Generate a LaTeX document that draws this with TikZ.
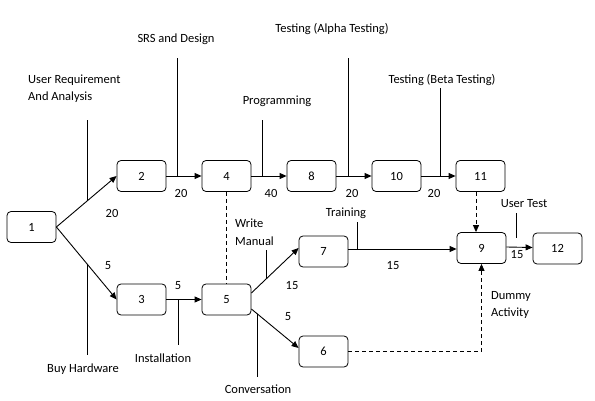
\documentclass[tikz,border=0pt]{standalone}
\usepackage{fontspec}
\setmainfont{Carlito}
\usetikzlibrary{arrows.meta,calc}
\begin{document}
\begin{tikzpicture}[x=1pt,y={(0pt,-1pt)},
  font=\fontsize{12.5}{17.5}\selectfont,
  ev/.style={draw,rounded corners=4pt,minimum width=49pt,minimum height=31pt,line width=0.8pt,inner sep=0pt},
  act/.style={line width=0.9pt,-{Triangle[length=7pt,width=6pt]}},
  dum/.style={line width=0.9pt,dash pattern=on 4pt off 3pt},
  call/.style={line width=0.9pt},
  lbl/.style={inner sep=0pt,align=left}]
\useasboundingbox (0,0) rectangle (595,401);
% events
\node[ev] (n1) at (31.5,227) {1};
\node[ev] (n2) at (141.5,176) {2};
\node[ev] (n3) at (141.5,299.5) {3};
\node[ev] (n4) at (226.5,176) {4};
\node[ev] (n5) at (226.5,299.5) {5};
\node[ev] (n8) at (311.5,176) {8};
\node[ev] (n10) at (396.5,176) {10};
\node[ev] (n11) at (480.5,176) {11};
\node[ev] (n7) at (323.5,251.5) {7};
\node[ev] (n6) at (323.5,351.5) {6};
\node[ev] (n9) at (481.5,248) {9};
\node[ev] (n12) at (557.5,248.5) {12};
% activities
\draw[act] (n1.east) -- (n2.west);
\draw[act] (n1.east) -- (n3.west);
\draw[act] (n2) -- (n4);
\draw[act] (n3) -- (n5);
\draw[act] (n4) -- (n8);
\draw[act] (n8) -- (n10);
\draw[act] (n10) -- (n11);
\coordinate (s57) at ([yshift=6.5pt]n5.east);
\coordinate (e57) at ([yshift=3.5pt]n7.west);
\coordinate (s56) at ([yshift=-9.5pt]n5.east);
\coordinate (e56) at ([yshift=3.5pt]n6.west);
\draw[act] (s57) -- (e57);
\draw[act] (s56) -- (e56);
\draw[act] ([yshift=2.5pt]n7.east) -- ([yshift=-1pt]n9.west);
\draw[act] ([yshift=1pt]n9.east) -- ([yshift=1pt]n12.west);
\draw[dum] (n4.south) -- (n5.north);
\draw[dum,-{Triangle[length=7pt,width=6pt]}] ([xshift=-4.5pt]n11.south) -- ([xshift=-5.5pt]n9.north);
\draw[dum,-{Triangle[length=7pt,width=6pt]}] (n6.east) -| (n9.south);
% callout lines
\coordinate (c12) at ($(n1.east)!0.508!(n2.west)$);
\coordinate (c13) at ($(n1.east)!0.508!(n3.west)$);
\draw[call] (c12) -- (c12 |- 0,120);
\draw[call] (c13) -- (c13 |- 0,355);
\draw[call] (177,176) -- (177,58);
\draw[call] (262,176) -- (262,120);
\draw[call] (348,176) -- (348,58);
\draw[call] (440,176) -- (440,88);
\draw[call] (178,299.5) -- (178,345);
\coordinate (c57) at ($(s57)!0.3125!(e57)$);
\draw[call] (c57) -- (c57 |- 0,250);
\coordinate (c56) at ($(s56)!0.125!(e56)$);
\draw[call] (c56) -- (c56 |- 0,377);
\draw[call] (357,249) -- (357,222);
\draw[call] (516,238) -- (516,213);
% labels
\node[lbl,anchor=west] (tUR) at (28,88.5) {User Requirement\\And Analysis};
\node[lbl] (tBH) at (83,369) {Buy Hardware};
\node[lbl] (tSRS) at (176,39) {SRS and Design};
\node[lbl] (tPR) at (277,101) {Programming};
\node[lbl] (tAT) at (332,29) {Testing (Alpha Testing)};
\node[lbl] (tBT) at (442,80) {Testing (Beta Testing)};
\node[lbl] (tIN) at (163,358) {Installation};
\node[lbl] (tCO) at (258,389) {Conversation};
\node[lbl,anchor=west] (tWM) at (235,232) {Write\\Manual};
\node[lbl] (tTR) at (346,213) {Training};
\node[lbl] (tUT) at (524,204) {User Test};
\node[lbl,anchor=west] (tDA) at (491,305) {Dummy\\Activity};
\node[lbl] (d1) at (112,213) {20};
\node[lbl] (d2) at (108,266) {5};
\node[lbl] (d3) at (181,193) {20};
\node[lbl] (d4) at (271,193) {40};
\node[lbl] (d5) at (352,193) {20};
\node[lbl] (d6) at (434,193) {20};
\node[lbl] (d7) at (178,286) {5};
\node[lbl] (d8) at (292,286) {15};
\node[lbl] (d9) at (288,317) {5};
\node[lbl] (d10) at (393,266) {15};
\node[lbl] (d11) at (517,255) {15};
\end{tikzpicture}
\end{document}
